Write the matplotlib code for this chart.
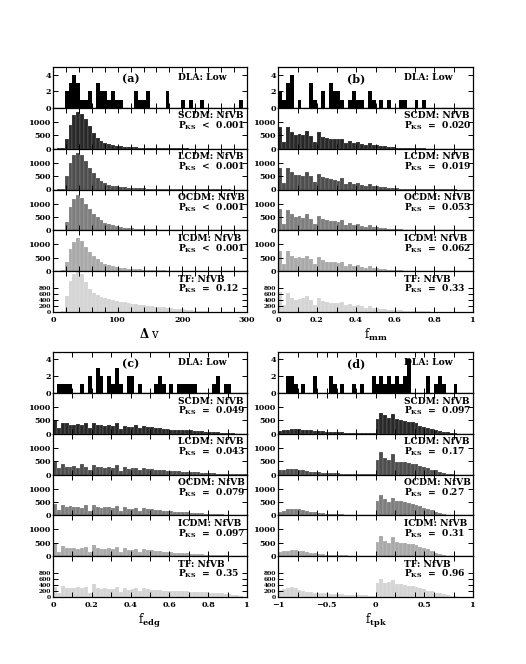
import matplotlib
matplotlib.use("Agg")
import matplotlib.pyplot as plt
import numpy as np
from matplotlib.ticker import MultipleLocator

plt.rcParams['font.family'] = 'DejaVu Serif'
plt.rcParams['font.weight'] = 'bold'
plt.rcParams['mathtext.fontset'] = 'custom'
plt.rcParams['mathtext.rm'] = 'DejaVu Serif:bold'
plt.rcParams['mathtext.it'] = 'DejaVu Serif:bold'
plt.rcParams['mathtext.bf'] = 'DejaVu Serif:bold'

# ---- data -------------------------------------------------------------
models = ["SCDM", "LCDM", "OCDM", "ICDM", "TF"]
colors = ["black", "#282828", "#4e4e4e", "#7e7e7e", "#a9a9a9", "#d4d4d4"]

# (a) delta v, 50 bins over 0-300
dla_a = [0, 0, 0, 2, 3, 4, 3, 1, 1, 2, 0, 3, 2, 2, 1, 2, 1, 1, 0, 0,
         0, 2, 1, 1, 2, 0, 0, 0, 0, 2, 0, 0, 0, 1, 0, 1, 0, 0, 1, 0,
         0, 0, 0, 0, 0, 0, 0, 0, 1, 0]
a_scdm = [0, 10, 40, 360, 900, 1260, 1360, 1300, 1110, 840, 575, 390, 290, 210, 160,
          125, 100, 85, 70, 60, 50, 45, 40, 35, 30, 25, 22, 20, 18, 15,
          12, 10, 9, 8, 7, 6, 5, 4, 4, 3, 3, 2, 2, 1, 1, 1, 1, 0, 0, 0]
a_lcdm = [0, 5, 30, 500, 1000, 1300, 1380, 1280, 1050, 820, 600, 430, 320, 240, 185,
          145, 115, 95, 80, 68, 58, 50, 44, 38, 33, 28, 24, 21, 18, 15,
          13, 11, 9, 8, 7, 6, 5, 4, 3, 3, 2, 2, 1, 1, 1, 1, 0, 0, 0, 0]
a_ocdm = [0, 5, 25, 310, 875, 1190, 1310, 1210, 1000, 790, 625, 500, 375, 290, 230,
          185, 150, 125, 105, 90, 78, 68, 60, 52, 45, 40, 35, 30, 26, 22,
          19, 16, 14, 12, 10, 8, 7, 6, 5, 4, 3, 3, 2, 2, 1, 1, 1, 0, 0, 0]
a_icdm = [0, 5, 25, 350, 825, 1100, 1225, 1125, 910, 725, 575, 450, 350, 280, 225,
          185, 155, 130, 110, 95, 82, 72, 63, 55, 48, 42, 37, 32, 28, 24,
          20, 17, 15, 13, 11, 9, 8, 7, 6, 5, 4, 3, 3, 2, 2, 1, 1, 0, 0, 0]
a_tf = [0, 10, 35, 530, 1050, 1300, 1370, 1280, 1000, 785, 650, 565, 510, 470, 435,
        405, 375, 350, 330, 305, 285, 265, 250, 235, 215, 200, 185, 170, 155, 140,
        125, 115, 100, 90, 75, 62, 50, 40, 30, 22, 15, 10, 7, 5, 3, 2, 1, 1, 0, 0]
pks_a = ["<  0.001", "<  0.001", "<  0.001", "<  0.001", "=  0.12"]

# (b) f_mm, 50 bins over 0-1
dla_b = [2, 1, 3, 4, 0, 1, 0, 0, 3, 1, 0, 2, 0, 3, 2, 2, 1, 0, 1, 2,
         1, 1, 0, 2, 1, 0, 1, 0, 1, 0, 0, 1, 1, 0, 0, 1, 0, 1, 0, 0,
         0, 0, 0, 0, 0, 0, 0, 0, 0, 0]
b_scdm = [810, 250, 795, 640, 520, 555, 515, 670, 490, 265, 610, 455, 405, 380, 350,
          355, 380, 195, 290, 215, 240, 175, 140, 210, 150, 125, 100, 85, 60, 50,
          40, 30, 25, 20, 15, 12, 10, 8, 6, 5, 4, 3, 2, 2, 1, 1, 0, 0, 0, 0]
b_lcdm = [810, 250, 810, 650, 525, 560, 500, 650, 500, 275, 590, 460, 440, 375, 340,
          325, 425, 210, 275, 210, 240, 175, 140, 200, 140, 120, 100, 80, 60, 50,
          40, 32, 25, 20, 16, 12, 10, 8, 6, 5, 4, 3, 2, 2, 1, 1, 0, 0, 0, 0]
b_ocdm = [790, 250, 775, 610, 500, 540, 475, 625, 440, 250, 540, 410, 375, 350, 350,
          310, 375, 210, 275, 200, 220, 170, 140, 190, 140, 115, 95, 80, 62, 50,
          40, 32, 25, 20, 16, 12, 10, 8, 6, 5, 4, 3, 2, 2, 1, 1, 0, 0, 0, 0]
b_icdm = [770, 255, 745, 585, 490, 525, 490, 585, 440, 280, 525, 400, 360, 340, 330,
          300, 360, 210, 260, 200, 220, 170, 130, 180, 130, 110, 90, 75, 60, 48,
          38, 30, 24, 19, 15, 12, 10, 8, 6, 5, 4, 3, 2, 2, 1, 1, 0, 0, 0, 0]
b_tf = [670, 240, 630, 490, 400, 435, 460, 530, 410, 240, 475, 380, 335, 305, 320,
        320, 335, 220, 260, 200, 240, 190, 150, 200, 140, 120, 110, 90, 80, 70,
        60, 55, 45, 40, 35, 30, 25, 20, 18, 15, 12, 10, 8, 6, 5, 4, 3, 2, 1, 1]
pks_b = ["=  0.020", "=  0.019", "=  0.053", "=  0.062", "=  0.33"]

# (c) f_edg, 50 bins over 0-1
dla_c = [0, 1, 1, 1, 1, 0, 0, 1, 0, 2, 0, 3, 2, 0, 2, 1, 3, 1, 0, 2,
         2, 0, 1, 0, 0, 0, 1, 2, 1, 0, 1, 0, 1, 1, 1, 1, 1, 0, 0, 0,
         0, 1, 2, 0, 1, 1, 0, 0, 0, 0]
c_scdm = [510, 210, 410, 390, 310, 325, 360, 310, 410, 210, 390, 310, 310, 290, 310,
          290, 400, 160, 300, 260, 260, 310, 210, 290, 260, 260, 225, 210, 175, 175,
          140, 150, 150, 140, 140, 125, 110, 100, 90, 75, 65, 55, 45, 35, 25, 15, 10, 5, 2, 0]
c_lcdm = [475, 250, 400, 275, 290, 310, 250, 375, 290, 160, 350, 275, 275, 250, 275,
          250, 360, 125, 290, 210, 225, 250, 160, 250, 210, 210, 175, 160, 150, 140,
          125, 120, 115, 110, 100, 95, 85, 75, 70, 60, 50, 45, 35, 30, 20, 15, 10, 5, 3, 1]
c_ocdm = [440, 200, 390, 320, 340, 320, 330, 270, 370, 170, 380, 300, 290, 300, 310,
          280, 360, 150, 300, 240, 250, 280, 180, 270, 240, 230, 200, 190, 170, 160,
          150, 140, 130, 120, 110, 100, 90, 85, 75, 65, 55, 50, 40, 35, 28, 20, 14, 8, 4, 1]
c_icdm = [475, 160, 375, 290, 300, 320, 270, 300, 360, 170, 420, 300, 270, 280, 300,
          260, 340, 140, 290, 230, 240, 270, 170, 260, 230, 220, 190, 180, 165, 155,
          145, 135, 125, 115, 105, 95, 85, 80, 70, 60, 52, 45, 38, 32, 25, 18, 12, 7, 3, 1]
c_tf = [330, 135, 355, 290, 310, 310, 350, 290, 330, 135, 430, 315, 275, 290, 275,
        275, 350, 170, 315, 250, 275, 290, 215, 310, 275, 250, 235, 230, 215, 215,
        215, 200, 215, 200, 190, 175, 175, 175, 160, 160, 150, 140, 130, 120, 110,
        95, 80, 60, 35, 10]
pks_c = ["=  0.049", "=  0.043", "=  0.079", "=  0.097", "=  0.35"]

# (d) f_tpk, 50 bins over -1..1
dla_d = [0, 0, 2, 2, 1, 0, 1, 0, 0, 2, 0, 0, 0, 2, 1, 0, 1, 0, 0, 1,
         0, 1, 0, 0, 2, 1, 2, 1, 2, 1, 2, 1, 2, 4, 0, 0, 0, 0, 2, 0,
         1, 2, 1, 0, 0, 1, 0, 0, 0, 0]
d_scdm = [90, 125, 150, 160, 175, 160, 150, 140, 125, 110, 100, 90, 80, 70, 60,
          50, 45, 40, 35, 30, 28, 25, 20, 15, 10,
          550, 790, 710, 600, 720, 560, 520, 480, 455, 440, 400, 300, 250, 230, 170,
          130, 95, 70, 45, 25, 10, 0, 0, 0, 0]
d_lcdm = [150, 175, 190, 200, 190, 175, 150, 125, 110, 95, 80, 70, 60, 50, 45,
          40, 35, 30, 25, 22, 20, 18, 15, 12, 10,
          560, 825, 625, 540, 775, 480, 470, 450, 420, 400, 380, 330, 280, 240, 180,
          150, 95, 60, 30, 12, 0, 0, 0, 0, 0]
d_ocdm = [130, 180, 220, 240, 250, 230, 200, 170, 140, 115, 95, 80, 65, 55, 45,
          38, 32, 27, 22, 18, 15, 12, 10, 8, 6,
          550, 760, 600, 500, 650, 540, 525, 500, 460, 440, 400, 340, 290, 250, 190,
          140, 90, 50, 25, 10, 0, 0, 0, 0, 0]
d_icdm = [140, 180, 210, 225, 230, 210, 180, 150, 125, 105, 90, 75, 62, 52, 44,
          38, 32, 27, 22, 18, 15, 12, 10, 8, 6,
          540, 750, 560, 475, 725, 540, 500, 475, 450, 440, 400, 325, 290, 250, 175,
          125, 75, 40, 20, 8, 0, 0, 0, 0, 0]
d_tf = [220, 265, 305, 350, 290, 240, 205, 180, 160, 145, 135, 130, 120, 110, 100,
        90, 85, 80, 75, 70, 65, 60, 55, 50, 45,
        485, 620, 460, 520, 590, 450, 425, 410, 380, 375, 350, 290, 265, 205, 195,
        150, 120, 95, 70, 40, 25, 15, 8, 3, 0]
pks_d = ["=  0.097", "=  0.17", "=  0.27", "=  0.31", "=  0.96"]

panels = [
    dict(tag="(a)", lim=(0, 300), dla=dla_a, mod=[a_scdm, a_lcdm, a_ocdm, a_icdm, a_tf],
         pks=pks_a, xlabel=r"$\Delta$ v", ticks=[0, 100, 200, 300],
         tlab=["0", "100", "200", "300"], minor=20),
    dict(tag="(b)", lim=(0, 1), dla=dla_b, mod=[b_scdm, b_lcdm, b_ocdm, b_icdm, b_tf],
         pks=pks_b, xlabel=r"f$_{\rm mm}$", ticks=[0, 0.2, 0.4, 0.6, 0.8, 1],
         tlab=["0", "0.2", "0.4", "0.6", "0.8", "1"], minor=0.1),
    dict(tag="(c)", lim=(0, 1), dla=dla_c, mod=[c_scdm, c_lcdm, c_ocdm, c_icdm, c_tf],
         pks=pks_c, xlabel=r"f$_{\rm edg}$", ticks=[0, 0.2, 0.4, 0.6, 0.8, 1],
         tlab=["0", "0.2", "0.4", "0.6", "0.8", "1"], minor=0.1),
    dict(tag="(d)", lim=(-1, 1), dla=dla_d, mod=[d_scdm, d_lcdm, d_ocdm, d_icdm, d_tf],
         pks=pks_d, xlabel=r"f$_{\rm tpk}$", ticks=[-1, -0.5, 0, 0.5, 1],
         tlab=["\u22121", "\u22120.5", "0", "0.5", "1"], minor=0.2),
]

# ---- layout ------------------------------------------------------------
W, H = 526, 664
fig = plt.figure(figsize=(W / 100, H / 100), dpi=100)
lefts = [53, 278, 53, 278]
widths = [194, 195, 194, 195]
tops = [67, 67, 352, 352]
sub_h = 245 / 6

for p, L, Wd, T in zip(panels, lefts, widths, tops):
    nb = len(p["dla"])
    edges = np.linspace(p["lim"][0], p["lim"][1], nb + 1)
    bw = edges[1] - edges[0]
    series = [p["dla"]] + p["mod"]
    for i, vals in enumerate(series):
        y0 = T + (i + 1) * sub_h
        ax = fig.add_axes([L / W, 1 - y0 / H, Wd / W, sub_h / H])
        ysize = 5.8
        if i == 0:
            ax.bar(edges[:-1], vals, width=bw, align="edge", color="black", linewidth=0)
            ax.set_ylim(0, 4.9)
            ax.set_yticks([0, 2, 4])
            ax.text(0.40, 0.72, p["tag"], transform=ax.transAxes, ha="center", va="center",
                    fontsize=8)
            ax.text(0.645, 0.74, "DLA: Low", transform=ax.transAxes, ha="left",
                    va="center", fontsize=6.6)
        else:
            ax.bar(edges[:-1], vals, width=bw, align="edge", color=colors[i],
                   edgecolor=(1, 1, 1, 0.35), linewidth=0.3)
            if models[i - 1] == "TF":
                ax.set_ylim(0, 1380)
                ax.set_yticks([0, 200, 400, 600, 800])
                ysize = 4.3
            else:
                ax.set_ylim(0, 1530)
                ax.set_yticks([0, 500, 1000])
            ax.text(0.645, 0.80, models[i - 1] + ": NfVB", transform=ax.transAxes,
                    ha="left", va="center", fontsize=6.6)
            ax.text(0.645, 0.56, r"P$_{\rm KS}$  " + p["pks"][i - 1], transform=ax.transAxes,
                    ha="left", va="center", fontsize=6.6)
        ax.set_xlim(*p["lim"])
        ax.set_xticks(p["ticks"])
        ax.xaxis.set_minor_locator(MultipleLocator(p["minor"]))
        ax.tick_params(which="both", direction="in", top=True, right=True,
                       labelsize=5.8, width=0.7, pad=3, length=3.5)
        ax.tick_params(axis="y", pad=1.5, labelsize=ysize)
        for s in ax.spines.values():
            s.set_linewidth(0.9)
        if i == len(series) - 1:
            ax.set_xticklabels(p["tlab"])
            ax.set_xlabel(p["xlabel"], fontsize=8.5, labelpad=2)
        else:
            ax.set_xticklabels([])

fig.savefig("out.png", dpi=100)
